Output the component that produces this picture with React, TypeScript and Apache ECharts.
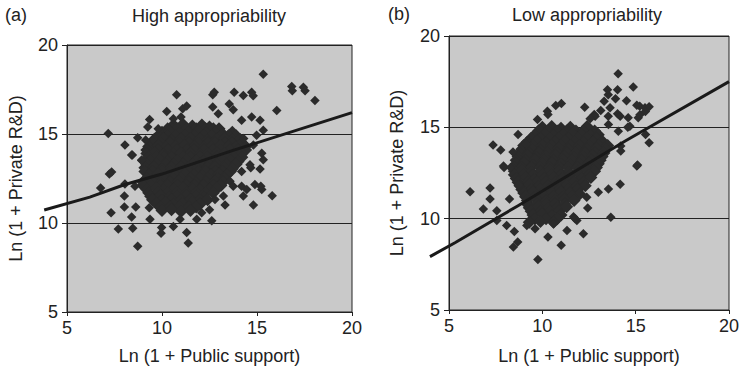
import React, { useEffect, useRef } from "react";
import * as echarts from "echarts";

const FONT = "'Liberation Sans', Arial, Helvetica, sans-serif";

const xTicks = [5, 10, 15, 20];
const yTicks = [5, 10, 15, 20];

const panelTitles = ["High appropriability", "Low appropriability"];
const panelTags = ["(a)", "(b)"];
const xAxisTitle = "Ln (1 + Public support)";
const yAxisTitle = "Ln (1 + Private R&D)";

// (a) High appropriability: scattered firms
const highOuter: [number, number][] = [
  [7.17, 15.03], [8.05, 14.38], [8.44, 13.82], [8.93, 13.51], [8.72, 14.79], [9.14, 14.66],
  [9.35, 15.82], [9.25, 15.4], [9.8, 15.3], [10.77, 17.21], [10.25, 16.27], [10.6, 15.86],
  [11.09, 16.42], [11.3, 16.57], [11.0, 15.96], [12.67, 17.21], [12.75, 17.34], [12.67, 16.51],
  [12.96, 16.14], [13.54, 16.69], [13.8, 17.34], [13.75, 16.36], [14.28, 17.16], [14.72, 17.34],
  [14.8, 17.15], [15.33, 18.36], [14.19, 15.77], [14.72, 15.96], [15.16, 15.77], [15.33, 15.21],
  [14.98, 14.93], [14.3, 14.75], [14.81, 14.38], [15.25, 13.92], [15.33, 13.55], [15.16, 13.04],
  [14.67, 13.1], [16.04, 16.32], [16.83, 17.67], [16.86, 17.43], [17.44, 17.62], [17.53, 17.43],
  [18.05, 16.88],
  [7.35, 12.86], [7.23, 12.75], [6.77, 11.97], [8.05, 12.19], [8.02, 11.51], [8.02, 10.9],
  [7.32, 10.58], [8.4, 10.34], [7.7, 9.66], [8.46, 9.71], [8.72, 8.69], [8.58, 12.07],
  [8.62, 10.9], [9.33, 10.86], [9.37, 10.21], [9.98, 9.75], [9.95, 9.42], [10.6, 9.81],
  [10.95, 10.21], [11.3, 9.47], [11.38, 8.88], [11.83, 10.21], [12.62, 10.12], [12.09, 10.58],
  [12.5, 10.75], [8.93, 13.54], [8.4, 13.82],
  [15.25, 11.88], [15.8, 11.53], [14.81, 11.01], [14.89, 12.16], [14.28, 11.51], [13.32, 11.01],
  [12.79, 11.32], [14.63, 13.27], [14.19, 12.9], [14.19, 12.07], [13.58, 12.34], [13.23, 11.51],
  [13.75, 12.07], [14.46, 11.88], [15.2, 12.07]
];

// (a) dense core
const highCore: [number, number][] = [
  [10.6, 15.5], [11.1, 15.55], [11.6, 15.45], [12.1, 15.5], [12.5, 15.4],
  [10.3, 15.3], [10.8, 15.3], [11.3, 15.3], [11.8, 15.3], [12.3, 15.3], [12.7, 15.3], [13.0, 15.3],
  [10.0, 15.1], [10.4, 15.15], [10.9, 15.05], [11.4, 15.1], [11.9, 15.15], [12.3, 15.05], [12.8, 15.1], [13.2, 15.0], [13.7, 15.1],
  [9.8, 14.9], [10.3, 14.9], [10.7, 14.9], [11.2, 14.9], [11.7, 14.9], [12.2, 14.9], [12.6, 14.9], [13.1, 14.9], [13.5, 14.9], [13.9, 14.9],
  [9.6, 14.7], [10.1, 14.75], [10.5, 14.65], [11.0, 14.7], [11.5, 14.75], [12.0, 14.7], [12.4, 14.65], [12.9, 14.7], [13.3, 14.75], [13.7, 14.65], [14.1, 14.7],
  [9.5, 14.5], [9.9, 14.5], [10.4, 14.5], [10.9, 14.5], [11.4, 14.5], [11.9, 14.5], [12.4, 14.5], [12.8, 14.5], [13.3, 14.5], [13.7, 14.5], [14.2, 14.5],
  [9.3, 14.3], [9.8, 14.35], [10.2, 14.25], [10.7, 14.3], [11.2, 14.35], [11.7, 14.3], [12.2, 14.25], [12.6, 14.3], [13.1, 14.35], [13.5, 14.3], [13.9, 14.25], [14.4, 14.3],
  [9.2, 14.1], [9.8, 14.1], [10.3, 14.1], [10.8, 14.1], [11.3, 14.1], [11.7, 14.1], [12.2, 14.1], [12.7, 14.1], [13.1, 14.1], [13.6, 14.1], [14.0, 14.1], [14.4, 14.1],
  [9.2, 13.9], [9.6, 13.95], [10.1, 13.85], [10.6, 13.9], [11.0, 13.95], [11.5, 13.9], [12.0, 13.85], [12.4, 13.9], [12.9, 13.95], [13.3, 13.9], [13.8, 13.85], [14.2, 13.9],
  [9.3, 13.7], [9.7, 13.7], [10.1, 13.7], [10.5, 13.7], [11.1, 13.7], [11.5, 13.7], [12.0, 13.7], [12.4, 13.7], [12.9, 13.7], [13.4, 13.7], [13.8, 13.7], [14.2, 13.7],
  [9.4, 13.5], [9.9, 13.55], [10.3, 13.45], [10.8, 13.5], [11.3, 13.55], [11.8, 13.5], [12.2, 13.45], [12.7, 13.5], [13.1, 13.55], [13.6, 13.5], [14.0, 13.45],
  [9.2, 13.3], [9.7, 13.3], [10.2, 13.3], [10.6, 13.3], [11.1, 13.3], [11.6, 13.3], [12.0, 13.3], [12.5, 13.3], [12.9, 13.3], [13.4, 13.3], [13.9, 13.3],
  [9.1, 13.1], [9.6, 13.15], [10.0, 13.05], [10.5, 13.1], [11.0, 13.15], [11.4, 13.1], [11.9, 13.05], [12.4, 13.1], [12.8, 13.15], [13.3, 13.1], [13.7, 13.05],
  [9.1, 12.9], [9.5, 12.9], [10.0, 12.9], [10.4, 12.9], [10.9, 12.9], [11.4, 12.9], [11.9, 12.9], [12.3, 12.9], [12.8, 12.9], [13.2, 12.9], [13.6, 12.9],
  [9.3, 12.7], [9.8, 12.75], [10.2, 12.65], [10.7, 12.7], [11.2, 12.75], [11.7, 12.7], [12.1, 12.65], [12.6, 12.7], [13.0, 12.75], [13.4, 12.7],
  [9.2, 12.5], [9.6, 12.5], [10.1, 12.5], [10.6, 12.5], [11.0, 12.5], [11.5, 12.5], [12.0, 12.5], [12.4, 12.5], [12.9, 12.5], [13.3, 12.5],
  [9.0, 12.3], [9.5, 12.35], [9.9, 12.25], [10.4, 12.3], [10.9, 12.35], [11.4, 12.3], [11.8, 12.25], [12.3, 12.3], [12.8, 12.35], [13.2, 12.3],
  [9.0, 12.1], [9.4, 12.1], [9.9, 12.1], [10.3, 12.1], [10.8, 12.1], [11.3, 12.1], [11.7, 12.1], [12.2, 12.1], [12.7, 12.1], [13.1, 12.1],
  [9.2, 11.9], [9.7, 11.95], [10.1, 11.85], [10.6, 11.9], [11.1, 11.95], [11.6, 11.9], [12.0, 11.85], [12.5, 11.9], [12.9, 11.95],
  [9.3, 11.7], [9.8, 11.7], [10.3, 11.7], [10.8, 11.7], [11.3, 11.7], [11.8, 11.7], [12.3, 11.7], [12.7, 11.7],
  [9.4, 11.5], [9.9, 11.55], [10.4, 11.45], [10.8, 11.5], [11.3, 11.55], [11.8, 11.5], [12.2, 11.45],
  [9.5, 11.3], [10.0, 11.3], [10.5, 11.3], [11.0, 11.3], [11.5, 11.3], [12.0, 11.3], [12.4, 11.3],
  [9.7, 11.1], [10.2, 11.15], [10.6, 11.05], [11.1, 11.1], [11.6, 11.15], [12.0, 11.05],
  [9.9, 10.9], [10.4, 10.9], [10.9, 10.9], [11.4, 10.9], [11.8, 10.9],
  [10.0, 10.7], [10.5, 10.75], [11.0, 10.65], [11.5, 10.7]
];

// (b) Low appropriability: scattered firms
const lowOuter: [number, number][] = [
  [7.36, 14.03], [7.77, 13.76], [8.7, 14.61], [8.43, 13.65], [9.15, 14.07], [7.95, 12.8],
  [8.3, 12.8], [9.74, 15.43], [9.83, 14.92], [10.27, 15.88], [10.3, 15.7], [10.72, 16.19],
  [11.02, 16.3], [12.27, 16.1], [12.78, 15.7], [13.13, 15.92], [13.31, 16.43], [13.53, 16.79],
  [13.49, 17.06], [14.03, 17.06], [14.06, 17.93], [13.92, 16.56], [14.51, 16.46], [14.87, 17.21],
  [14.03, 15.74], [13.53, 15.6], [14.6, 15.52], [15.14, 15.52], [14.69, 15.06], [15.22, 16.15],
  [15.5, 16.07], [15.72, 16.12], [15.52, 15.87], [15.23, 15.69], [15.53, 14.61], [15.72, 14.16],
  [15.1, 12.94], [14.2, 13.98], [14.2, 13.7], [13.63, 16.07], [12.83, 15.61], [12.56, 15.47],
  [14.58, 15.01], [13.54, 15.16], [14.07, 14.79], [14.17, 15.61], [15.06, 16.21],
  [6.13, 11.48], [7.2, 11.68], [7.2, 11.08], [6.84, 10.53], [7.56, 10.44], [7.92, 12.89],
  [8.72, 11.84], [8.24, 11.08], [7.56, 9.9], [8.09, 9.63], [8.5, 9.3], [8.68, 8.72],
  [8.45, 8.45], [9.76, 7.77], [10.3, 8.99], [11.01, 8.54], [10.6, 9.72], [11.32, 9.35],
  [9.17, 9.63], [9.61, 9.45], [11.85, 9.9], [11.67, 10.1],
  [15.06, 12.89], [14.17, 11.89], [13.54, 11.62], [13.0, 11.44], [12.38, 11.17], [12.43, 10.59],
  [13.67, 10.08], [12.2, 9.17], [11.76, 9.99]
];

// (b) dense core
const lowCore: [number, number][] = [
  [10.0, 15.0], [10.5, 15.05], [11.0, 14.95], [11.5, 15.0], [12.4, 15.05],
  [9.8, 14.8], [10.3, 14.8], [10.8, 14.8], [11.3, 14.8], [11.8, 14.8], [12.2, 14.8], [12.8, 14.8],
  [9.6, 14.6], [10.1, 14.65], [10.6, 14.55], [11.1, 14.6], [11.6, 14.65], [12.1, 14.6], [12.6, 14.55], [13.0, 14.6],
  [9.4, 14.4], [9.9, 14.4], [10.4, 14.4], [10.9, 14.4], [11.4, 14.4], [11.9, 14.4], [12.4, 14.4], [12.9, 14.4],
  [9.2, 14.2], [9.7, 14.25], [10.2, 14.15], [10.7, 14.2], [11.2, 14.25], [11.7, 14.2], [12.2, 14.15], [12.7, 14.2], [13.2, 14.25],
  [9.0, 14.0], [9.5, 14.0], [10.0, 14.0], [10.5, 14.0], [11.0, 14.0], [11.5, 14.0], [12.0, 14.0], [12.5, 14.0], [13.0, 14.0], [13.5, 14.0],
  [8.9, 13.8], [9.4, 13.85], [9.9, 13.75], [10.4, 13.8], [10.9, 13.85], [11.4, 13.8], [11.9, 13.75], [12.4, 13.8], [12.9, 13.85], [13.4, 13.8],
  [8.8, 13.6], [9.3, 13.6], [9.8, 13.6], [10.3, 13.6], [10.8, 13.6], [11.3, 13.6], [11.8, 13.6], [12.3, 13.6], [12.8, 13.6], [13.3, 13.6],
  [8.7, 13.4], [9.2, 13.45], [9.7, 13.35], [10.2, 13.4], [10.7, 13.45], [11.2, 13.4], [11.7, 13.35], [12.2, 13.4], [12.7, 13.45], [13.2, 13.4],
  [8.6, 13.2], [9.1, 13.2], [9.6, 13.2], [10.1, 13.2], [10.6, 13.2], [11.1, 13.2], [11.6, 13.2], [12.1, 13.2], [12.6, 13.2], [13.1, 13.2],
  [8.6, 13.0], [9.0, 13.05], [9.5, 12.95], [10.0, 13.0], [10.5, 13.05], [11.0, 13.0], [11.5, 12.95], [12.0, 13.0], [12.5, 13.05], [13.0, 13.0],
  [8.5, 12.8], [8.9, 12.8], [9.4, 12.8], [9.9, 12.8], [10.4, 12.8], [10.9, 12.8], [11.4, 12.8], [11.9, 12.8], [12.4, 12.8], [12.9, 12.8],
  [8.5, 12.6], [8.9, 12.65], [9.4, 12.55], [9.9, 12.6], [10.4, 12.65], [10.9, 12.6], [11.4, 12.55], [11.9, 12.6], [12.4, 12.65], [12.8, 12.6],
  [8.5, 12.4], [9.0, 12.4], [9.5, 12.4], [10.0, 12.4], [10.5, 12.4], [11.0, 12.4], [11.5, 12.4], [12.0, 12.4], [12.5, 12.4],
  [8.6, 12.2], [9.1, 12.25], [9.6, 12.15], [10.1, 12.2], [10.6, 12.25], [11.1, 12.2], [11.6, 12.15], [12.1, 12.2], [12.6, 12.25],
  [8.7, 12.0], [9.2, 12.0], [9.7, 12.0], [10.2, 12.0], [10.7, 12.0], [11.2, 12.0], [11.7, 12.0], [12.2, 12.0],
  [8.8, 11.8], [9.3, 11.85], [9.8, 11.75], [10.3, 11.8], [10.8, 11.85], [11.3, 11.8], [11.8, 11.75], [12.3, 11.8],
  [8.9, 11.6], [9.4, 11.6], [9.9, 11.6], [10.4, 11.6], [10.9, 11.6], [11.4, 11.6], [11.9, 11.6],
  [9.0, 11.4], [9.5, 11.45], [10.0, 11.35], [10.5, 11.4], [11.0, 11.45], [11.5, 11.4], [12.0, 11.35],
  [9.1, 11.2], [9.6, 11.2], [10.1, 11.2], [10.6, 11.2], [11.1, 11.2], [11.6, 11.2],
  [9.2, 11.0], [9.7, 11.05], [10.2, 10.95], [10.7, 11.0], [11.2, 11.05], [11.7, 11.0],
  [9.2, 10.8], [9.7, 10.8], [10.2, 10.8], [10.7, 10.8], [11.2, 10.8],
  [9.3, 10.6], [9.8, 10.65], [10.3, 10.55], [10.8, 10.6], [11.3, 10.65],
  [9.4, 10.4], [9.9, 10.4], [10.4, 10.4], [10.9, 10.4],
  [9.5, 10.2], [10.0, 10.25], [10.5, 10.15], [11.0, 10.2],
  [9.6, 10.0], [10.2, 10.0], [10.8, 10.0],
  [9.3, 9.8], [9.9, 9.85], [10.6, 9.8]
];

// fitted values
const highFit: [number, number][] = [[3.8, 10.73], [6.2, 11.45], [8.05, 12.16], [10, 12.75], [13.74, 14.08], [20, 16.2]];
const lowFit: [number, number][] = [[3.98, 7.92], [5.32, 8.68], [8.7, 10.71], [14.44, 14.25], [20, 17.5]];

const TEXT = "#222222";
const DOT = "#2b2b2b";

function makeXAxis(gridIndex: number, gap: number) {
  return {
    type: "value",
    gridIndex,
    min: xTicks[0],
    max: xTicks[xTicks.length - 1],
    interval: 5,
    axisLine: { show: true, onZero: false, lineStyle: { color: TEXT, width: 1 } },
    axisTick: { show: true, length: 4, lineStyle: { color: TEXT } },
    axisLabel: { fontSize: 18, color: TEXT, fontFamily: FONT, margin: 7 },
    splitLine: { show: false },
    name: xAxisTitle,
    nameLocation: "middle",
    nameGap: gap,
    nameTextStyle: { fontSize: 18, color: TEXT, fontFamily: FONT },
  };
}

function makeYAxis(gridIndex: number, gap: number) {
  return {
    type: "value",
    gridIndex,
    min: yTicks[0],
    max: yTicks[yTicks.length - 1],
    interval: 5,
    axisLine: { show: true, onZero: false, lineStyle: { color: TEXT, width: 1 } },
    axisTick: { show: true, length: 5, lineStyle: { color: TEXT } },
    axisLabel: { fontSize: 18, color: TEXT, fontFamily: FONT, margin: 9 },
    splitLine: { show: true, lineStyle: { color: TEXT, width: 1 } },
    name: yAxisTitle,
    nameLocation: "middle",
    nameGap: gap,
    nameTextStyle: { fontSize: 18, color: TEXT, fontFamily: FONT },
  };
}

function scatter(gridIndex: number, data: [number, number][], size: number) {
  return {
    type: "scatter",
    xAxisIndex: gridIndex,
    yAxisIndex: gridIndex,
    data,
    symbol: "diamond",
    symbolSize: size,
    itemStyle: { color: DOT, opacity: 1 },
    z: 2,
  };
}

export default function App() {
  const ref = useRef<HTMLDivElement>(null);

  useEffect(() => {
    if (!ref.current) return;
    const chart = echarts.init(ref.current, null, { renderer: "svg" });
    const gridStyle = {
      show: true,
      backgroundColor: "#c9c9c9",
      borderColor: TEXT,
      borderWidth: 1,
    };
    chart.setOption({
      animation: false,
      grid: [
        { ...gridStyle, left: 67, top: 45, width: 285, height: 270.5 },
        { ...gridStyle, left: 449, top: 36, width: 280, height: 275.7 },
      ],
      xAxis: [makeXAxis(0, 35), makeXAxis(1, 37)],
      yAxis: [makeYAxis(0, 42), makeYAxis(1, 43)],
      series: [
        scatter(0, highCore, 13),
        scatter(0, highOuter, 9.5),
        scatter(1, lowCore, 13),
        scatter(1, lowOuter, 9.5),
      ],
    });

    const toPx = (gridIndex: number, pts: [number, number][]) =>
      pts.map((p) => chart.convertToPixel({ gridIndex }, p) as number[]);

    chart.setOption({
      graphic: [
        { type: "text", left: 5, top: 6, style: { text: panelTags[0], fontSize: 18, fontFamily: FONT, fill: TEXT } },
        { type: "text", x: 209, y: 16, style: { text: panelTitles[0], fontSize: 18, fontFamily: FONT, fill: TEXT, align: "center", verticalAlign: "middle" } },
        { type: "text", left: 388, top: 5, style: { text: panelTags[1], fontSize: 18, fontFamily: FONT, fill: TEXT } },
        { type: "text", x: 587, y: 15, style: { text: panelTitles[1], fontSize: 18, fontFamily: FONT, fill: TEXT, align: "center", verticalAlign: "middle" } },
        {
          type: "polyline",
          z: 100,
          shape: { points: toPx(0, highFit) },
          style: { stroke: "#1a1a1a", lineWidth: 3, fill: "none" },
        },
        {
          type: "polyline",
          z: 100,
          shape: { points: toPx(1, lowFit) },
          style: { stroke: "#1a1a1a", lineWidth: 3, fill: "none" },
        },
      ],
    });
    return () => chart.dispose();
  }, []);

  return (
    <div
      ref={ref}
      style={{ position: "fixed", left: 0, top: 0, width: 743, height: 370, background: "#ffffff" }}
    />
  );
}
